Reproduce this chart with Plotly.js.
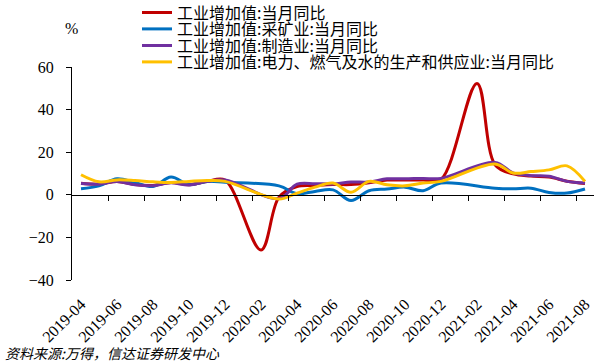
<!DOCTYPE html>
<html>
<head>
<meta charset="utf-8">
<script src="https://cdn.plot.ly/plotly-3.0.1.min.js"></script>
<style>html,body{margin:0;padding:0;background:#fff;}#chart{width:606px;height:362px;}</style>
</head>
<body>
<div id="chart"></div>
<script>
const categories = ["2019-04","2019-05","2019-06","2019-07","2019-08","2019-09","2019-10","2019-11","2019-12",
  "2020-01","2020-02","2020-03","2020-04","2020-05","2020-06","2020-07","2020-08","2020-09","2020-10","2020-11","2020-12",
  "2021-01","2021-02","2021-03","2021-04","2021-05","2021-06","2021-07","2021-08"];

const seriesNames = ["工业增加值:当月同比","工业增加值:采矿业:当月同比","工业增加值:制造业:当月同比","工业增加值:电力、燃气及水的生产和供应业:当月同比"];

const totalYoY = [5.4,5.0,6.3,4.8,4.4,5.8,4.7,6.2,6.9,null,-25.9,-1.1,3.9,4.4,4.8,4.8,5.6,6.9,6.9,7.0,7.3,null,52.3,14.1,9.8,8.8,8.3,6.4,5.3];
const miningYoY = [2.8,4.2,7.5,5.8,3.9,8.3,4.8,6.3,5.9,null,null,4.2,0.5,1.6,2.3,-2.7,1.9,2.7,3.6,1.9,5.5,null,null,3.1,2.8,3.1,1.1,0.8,2.7];
const manufYoY = [5.3,5.0,6.2,4.7,4.3,5.6,4.6,6.3,7.0,null,null,-1.8,5.0,5.2,5.1,6.0,6.0,7.5,7.5,7.7,7.7,null,null,15.2,10.3,9.0,8.7,6.3,5.5];
const utilYoY = [9.4,6.1,7.0,6.7,6.1,5.8,6.3,6.7,6.3,null,null,-2.0,0.8,3.6,5.5,1.2,6.3,4.7,4.2,5.5,6.3,null,null,14.5,10.2,10.9,11.7,13.6,6.3];

const yTicks = [-40,-20,0,20,40,60];
const colors = ["#C00000","#0070C0","#7030A0","#FFC000"];

const idx = categories.map((c, i) => i);
const labelIdx = idx.filter(i => i % 2 === 0);
const boundaryTicks = idx.filter(i => i % 2 === 1 && i < categories.length - 1).map(i => i + 0.5);

const legendIds = ["legend","legend2","legend3","legend4"];
const allSeries = [totalYoY, miningYoY, manufYoY, utilYoY];
const traces = allSeries.map((vals, k) => ({
  type: "scatter", mode: "lines", x: idx, y: vals, name: seriesNames[k],
  connectgaps: true, legend: legendIds[k],
  line: {color: colors[k], width: 3, shape: "spline", smoothing: 1}
}));
traces.push({type: "scatter", mode: "lines", x: [], y: [], xaxis: "x2", yaxis: "y", showlegend: false, hoverinfo: "skip"});

const serif = "Liberation Serif, serif";
const cjk = "Noto Sans CJK SC, sans-serif";

const plotTop = 67, plotH = 213, plotL = 72, plotW = 522;
const rowY = [12.5, 29, 45.5, 62];
const legendX = (137 - plotL) / plotW;

const layout = {
  width: 606, height: 362,
  margin: {l: plotL, r: 606 - plotL - plotW, t: plotTop, b: 362 - plotTop - plotH, autoexpand: false},
  paper_bgcolor: "#fff", plot_bgcolor: "#fff",
  showlegend: true,
  xaxis: {range: [-0.5, 28.5], tickvals: labelIdx, ticktext: labelIdx.map(i => categories[i]),
    tickangle: -45, ticks: "", showline: false, showgrid: false, zeroline: false, ticklabelstandoff: 11,
    tickfont: {family: serif, size: 16, color: "#000"}},
  xaxis2: {overlaying: "x", matches: "x", anchor: "free", position: 0.4, side: "bottom",
    range: [-0.5, 28.5], tickvals: boundaryTicks, ticks: "outside", ticklen: 5, tickwidth: 1, tickcolor: "#000",
    showline: true, linecolor: "#000", linewidth: 1, showticklabels: false, showgrid: false, zeroline: false},
  yaxis: {range: [-40, 60], tickvals: yTicks, ticks: "outside", ticklen: 5, tickcolor: "#000",
    showline: true, linecolor: "#000", linewidth: 1, showgrid: false, zeroline: false, ticklabelstandoff: 9,
    tickfont: {family: serif, size: 16, color: "#000"}},
  annotations: [
    {text: "%", xref: "paper", yref: "paper", x: (63 - plotL) / plotW, y: 1 + (plotTop - 18) / plotH, showarrow: false,
      font: {family: serif, size: 16, color: "#000"}},
    {text: "资料来源:万得，信达证券研发中心", xref: "paper", yref: "paper", x: (3 - plotL) / plotW, y: -(353 - plotTop - plotH) / plotH,
      xanchor: "left", yanchor: "middle", showarrow: false,
      font: {family: cjk, size: 14, color: "#000", style: "italic"}}
  ]
};
legendIds.forEach((id, k) => {
  layout[id] = {x: legendX, y: 1 + (plotTop - rowY[k]) / plotH, xanchor: "left", yanchor: "middle",
    bgcolor: "rgba(0,0,0,0)", borderwidth: 0,
    font: {family: cjk, size: 16, color: "#000"}};
});

Plotly.newPlot("chart", traces, layout, {displayModeBar: false, staticPlot: true});
</script>
</body>
</html>
